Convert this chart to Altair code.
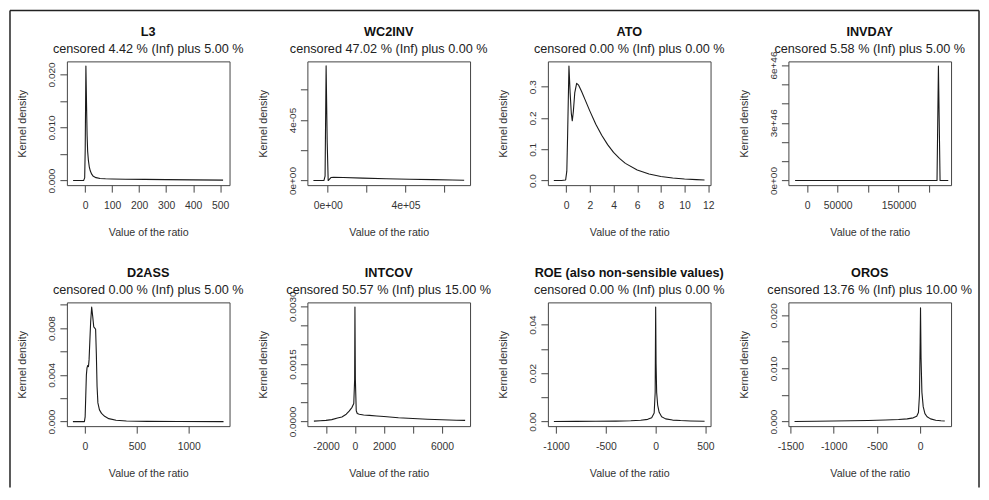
import altair as alt
import pandas as pd

# ---------------- data ----------------
names = ["L3", "WC2INV", "ATO", "INVDAY",
         "D2ASS", "INTCOV", "ROE (also non-sensible values)", "OROS"]
subtitles = [
    "censored 4.42 % (Inf) plus 5.00 %",
    "censored 47.02 % (Inf) plus 0.00 %",
    "censored 0.00 % (Inf) plus 0.00 %",
    "censored 5.58 % (Inf) plus 5.00 %",
    "censored 0.00 % (Inf) plus 5.00 %",
    "censored 50.57 % (Inf) plus 15.00 %",
    "censored 0.00 % (Inf) plus 0.00 %",
    "censored 13.76 % (Inf) plus 10.00 %",
]
x_axis_title = "Value of the ratio"
y_axis_title = "Kernel density"

x_L3 = [-45, -6, -2, 0, 2.5, 5, 7, 9, 12, 15, 19, 24, 30, 40, 55, 75, 100, 150, 220, 300, 400, 511]
y_L3 = [0, 0, 0.0005, 0.006, 0.0216, 0.014, 0.0085, 0.0055, 0.0037, 0.0026, 0.0018, 0.0012,
        0.0008, 0.00055, 0.0004, 0.00034, 0.0003, 0.00026, 0.00022, 0.00018, 0.00013, 0.00008]

x_WC2INV = [-74000, -20000, -14000, -8600, -3000, 2000, 8000, 16000, 30000, 80000, 180000,
            300000, 420000, 540000, 640000, 701700]
y_WC2INV = [0, 0, 3e-6, 7.58e-5, 2.5e-5, 0, 8e-7, 2e-6, 2.2e-6, 2e-6, 1.6e-6, 1.2e-6, 9e-7,
            6e-7, 3.5e-7, 2e-7]

x_ATO = [-1.05, -0.4, -0.05, 0.05, 0.12, 0.23, 0.33, 0.43, 0.51, 0.6, 0.72, 0.88, 1.05, 1.3,
         1.6, 2.0, 2.5, 3.0, 3.5, 4.0, 4.5, 5.0, 6.0, 7.0, 8.0, 9.0, 10.0, 11.0, 11.69]
y_ATO = [0, 0, 0.002, 0.03, 0.15, 0.366, 0.28, 0.215, 0.191, 0.22, 0.28, 0.311, 0.305, 0.285,
         0.258, 0.222, 0.18, 0.145, 0.115, 0.09, 0.071, 0.055, 0.034, 0.021, 0.013, 0.008,
         0.005, 0.003, 0.002]

x_INVDAY = [-20000, 100000, 213500, 215800, 218500, 232000]
y_INVDAY = [0, 0, 0, 5.95e46, 0, 0]

x_D2ASS = [-116, -5, 2, 8, 14, 20, 27, 34, 40, 47, 55, 65, 75, 85, 95, 103, 110, 117, 125,
           140, 160, 190, 230, 300, 400, 600, 900, 1336]
y_D2ASS = [0, 0, 0.0004, 0.0022, 0.0040, 0.0046, 0.0048, 0.0047, 0.0053, 0.0068, 0.0085,
           0.0098, 0.0090, 0.0081, 0.0080, 0.0079, 0.0058, 0.0030, 0.0016, 0.0010, 0.0007,
           0.00045, 0.00025, 0.00012, 0.00005, 0.00002, 0.00001, 0]

x_INTCOV = [-2830, -2400, -2000, -1600, -1200, -900, -600, -400, -200, -80, -20, 0, 30, 90,
            160, 300, 600, 1000, 1500, 2000, 3000, 4000, 5000, 6000, 7000, 7600]
y_INTCOV = [0.00001, 0.00002, 0.00003, 0.00005, 0.00009, 0.00012, 0.00019, 0.00027, 0.00037,
            0.00047, 0.0011, 0.00298, 0.0011, 0.00028, 0.00021, 0.00019, 0.00017, 0.00016,
            0.000145, 0.00013, 0.0001, 0.00008, 0.00006, 0.000045, 0.000035, 0.00003]

x_ROE = [-1022, -800, -600, -400, -250, -150, -80, -40, -15, -5, 0, 4, 10, 20, 35, 60, 100,
         170, 250, 350, 491]
y_ROE = [0.00003, 0.00006, 0.0001, 0.00018, 0.0003, 0.0005, 0.0009, 0.0016, 0.0035, 0.012,
         0.0473, 0.024, 0.012, 0.0068, 0.0038, 0.002, 0.0011, 0.0006, 0.0004, 0.00025, 0.00012]

x_OROS = [-1452, -1200, -1000, -800, -600, -400, -250, -150, -80, -40, -20, -8, 0, 4, 10, 20,
          35, 55, 80, 120, 180, 240, 284]
y_OROS = [0.00002, 0.00006, 0.0001, 0.00014, 0.0002, 0.00028, 0.00038, 0.0005, 0.0007, 0.001,
          0.0017, 0.005, 0.015, 0.0214, 0.012, 0.0055, 0.0028, 0.0015, 0.0009, 0.0005,
          0.00025, 0.00015, 0.0001]

xs = [x_L3, x_WC2INV, x_ATO, x_INVDAY, x_D2ASS, x_INTCOV, x_ROE, x_OROS]
ys = [y_L3, y_WC2INV, y_ATO, y_INVDAY, y_D2ASS, y_INTCOV, y_ROE, y_OROS]

x_domains = [[-68, 535], [-105000, 732000], [-1.55, 12.2], [-31000, 236600],
             [-174, 1394], [-3280, 7940], [-1082, 551], [-1523, 357]]
y_domains = [[-0.00086, 0.02246], [-3.03e-6, 7.88e-5], [-0.0146, 0.381], [-2.38e45, 6.19e46],
             [-0.00039, 0.0102], [-0.00012, 0.0031], [-0.0019, 0.0492], [-0.00086, 0.0224]]

x_ticks = [[0, 100, 200, 300, 400, 500], [0, 2e5, 4e5, 6e5], [0, 2, 4, 6, 8, 10, 12],
           [0, 50000, 100000, 150000, 200000], [0, 500, 1000],
           [-2000, 0, 2000, 4000, 6000], [-1000, -500, 0, 500], [-1500, -1000, -500, 0]]
x_tick_labels = [["0", "100", "200", "300", "400", "500"], ["0e+00", "", "4e+05", ""],
                 ["0", "2", "4", "6", "8", "10", "12"], ["0", "50000", "", "150000", ""],
                 ["0", "500", "1000"], ["-2000", "0", "2000", "", "6000"],
                 ["-1000", "-500", "0", "500"], ["-1500", "-1000", "-500", "0"]]
y_ticks = [[0, 0.005, 0.01, 0.015, 0.02], [0, 2e-5, 4e-5, 6e-5], [0, 0.1, 0.2, 0.3],
           [0, 1e46, 2e46, 3e46, 4e46, 5e46, 6e46], [0, 0.002, 0.004, 0.006, 0.008, 0.01],
           [0, 0.0005, 0.001, 0.0015, 0.002, 0.0025, 0.003], [0, 0.01, 0.02, 0.03, 0.04],
           [0, 0.005, 0.01, 0.015, 0.02]]
y_tick_labels = [["0.000", "", "0.010", "", "0.020"], ["0e+00", "", "4e-05", ""],
                 ["0.0", "0.1", "0.2", "0.3"], ["0e+00", "", "", "3e+46", "", "", "6e+46"],
                 ["0.000", "", "0.004", "", "0.008", ""],
                 ["0.0000", "", "", "0.0015", "", "", "0.0030"],
                 ["0.00", "", "0.02", "", "0.04"], ["0.000", "", "0.010", "", "0.020"]]

# ---------------- layout / style ----------------
W, H = 163, 124
FONT = "Liberation Sans"
TXT = "#222"


def label_expr(ticks, labels):
    tol = max(abs(t) for t in ticks) * 1e-6
    expr = ""
    for t, lab in zip(ticks, labels):
        if lab:
            expr += f"abs(datum.value - ({float(t)!r})) <= {tol!r} ? '{lab}' : "
    return expr + "''"


one = pd.DataFrame({"k": [0]})


def panel(i):
    df = pd.DataFrame({"x": xs[i], "y": ys[i]})
    line = alt.Chart(df).mark_line(color="#1a1a1a", strokeWidth=1.1, strokeJoin="round").encode(
        x=alt.X("x:Q",
                scale=alt.Scale(domain=x_domains[i], nice=False, zero=False),
                axis=alt.Axis(values=x_ticks[i], labelExpr=label_expr(x_ticks[i], x_tick_labels[i]),
                              title=x_axis_title, titleX=W / 2, titleY=47,
                              titleAlign="center", titleBaseline="middle",
                              labelAlign="center", labelBaseline="middle", labelPadding=13.6,
                              labelFontSize=10.4)),
        y=alt.Y("y:Q",
                scale=alt.Scale(domain=y_domains[i], nice=False, zero=False),
                axis=alt.Axis(values=y_ticks[i], labelExpr=label_expr(y_ticks[i], y_tick_labels[i]),
                              title=y_axis_title, titleX=-44, titleY=H / 2, titleAngle=270,
                              titleAlign="center", titleBaseline="middle",
                              labelAngle=270, labelAlign="center", labelBaseline="middle",
                              labelPadding=8.3, labelFontSize=10)),
    )
    t1 = alt.Chart(one).mark_text(font=FONT, fontSize=12.7, fontWeight="bold", color="#111",
                                  align="center", baseline="middle").encode(
        x=alt.value(W / 2), y=alt.value(-29.5), text=alt.value(names[i]))
    t2 = alt.Chart(one).mark_text(font=FONT, fontSize=12.7, color=TXT,
                                  align="center", baseline="middle").encode(
        x=alt.value(W / 2), y=alt.value(-12), text=alt.value(subtitles[i]))
    layers = [line, t1, t2]
    if i == 0:
        frame = dict(color="#222", strokeWidth=1.5)
        layers += [
            alt.Chart(one).mark_rule(**frame).encode(
                x=alt.value(-57), y=alt.value(-51), y2=alt.value(427)),
            alt.Chart(one).mark_rule(**frame).encode(
                x=alt.value(914), y=alt.value(-51), y2=alt.value(427)),
            alt.Chart(one).mark_rule(**frame).encode(
                x=alt.value(-57), x2=alt.value(914), y=alt.value(-51)),
        ]
    return alt.layer(*layers).properties(width=W, height=H)


chart = alt.concat(*[panel(i) for i in range(8)], columns=4,
                   spacing={"row": 117.5, "column": 78}, bounds="flush").properties(
    padding={"left": 0, "top": 0, "right": 0, "bottom": 0},
    autosize=alt.AutoSizeParams(type="pad"),
).configure_view(
    stroke="#444", strokeWidth=1
).configure_axis(
    domain=False, grid=False, tickColor="#444", tickSize=7, tickWidth=1,
    labelFont=FONT, titleFont=FONT, labelColor="#333", titleColor="#333",
    titleFontSize=10.7, titleFontWeight="normal", labelOverlap=False, labelFlush=False,
)

chart.save("out.html", embed_options={"renderer": "svg", "actions": False})
